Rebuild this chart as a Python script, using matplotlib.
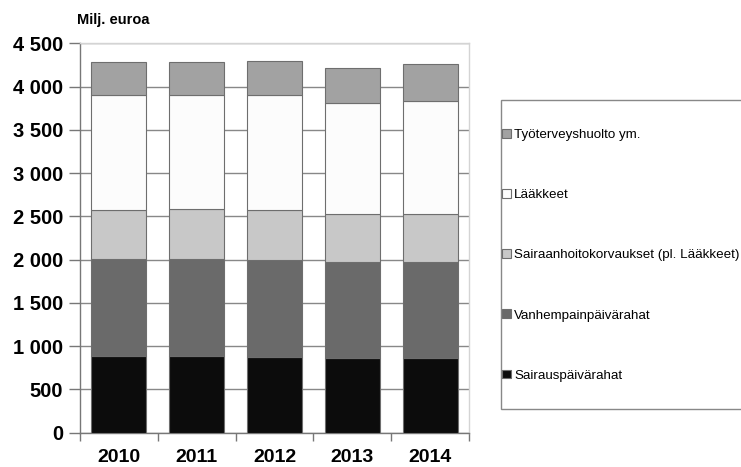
import numpy as np
import matplotlib.pyplot as plt
import matplotlib.patches as patches

plt.rcParams['font.family'] = ['Liberation Sans', 'DejaVu Sans']

years = ['2010', '2011', '2012', '2013', '2014']
# Milj. euroa, alhaalta ylös
sairauspv = [890, 890, 875, 863, 863]
vanhempainpv = [1114, 1112, 1117, 1113, 1113]
sairaanhoito = [570, 580, 578, 555, 555]
laakkeet = [1332, 1325, 1336, 1283, 1299]
tyoterveys = [378, 380, 390, 397, 431]

series = [
    ('Sairauspäivärahat', sairauspv, '#0c0c0c'),
    ('Vanhempainpäivärahat', vanhempainpv, '#6a6a6a'),
    ('Sairaanhoitokorvaukset (pl. Lääkkeet)', sairaanhoito, '#c8c8c8'),
    ('Lääkkeet', laakkeet, '#fcfcfc'),
    ('Työterveyshuolto ym.', tyoterveys, '#a2a2a2'),
]

yticks = [0, 500, 1000, 1500, 2000, 2500, 3000, 3500, 4000, 4500]
ytick_labels = ['0', '500', '1 000', '1 500', '2 000', '2 500', '3 000', '3 500', '4 000', '4 500']

W, H = 741, 467
fig = plt.figure(figsize=(W / 100, H / 100), dpi=100)
ax = fig.add_axes([80 / W, 1 - 432.7 / H, (469 - 80) / W, (432.7 - 43.3) / H])

x = np.arange(len(years))
bottom = np.zeros(len(years))
handles = []
for name, vals, col in series:
    b = ax.bar(x, vals, width=0.707, bottom=bottom, color=col, edgecolor='#6e6e6e',
               linewidth=0.8, label=name, zorder=3)
    handles.append(b)
    bottom += np.array(vals)

ax.set_xlim(-0.5, len(years) - 0.5)
ax.set_ylim(0, 4500)
ax.set_yticks(yticks)
ax.set_yticklabels(ytick_labels, fontsize=14.5, fontweight='bold')
ax.set_xticks(x)
ax.set_xticklabels(years, fontsize=14, fontweight='bold')
ax.tick_params(axis='x', length=0, pad=12)
ax.tick_params(axis='y', length=8, color='#777777', width=1, pad=4)
ax.set_xticks(np.arange(-0.5, len(years)), minor=True)
ax.tick_params(axis='x', which='minor', length=6, color='#777777', width=1)

ax.yaxis.grid(True, color='#888888', linewidth=1, zorder=0)
ax.set_axisbelow(True)
ax.spines['left'].set_color('#777777')
ax.spines['bottom'].set_color('#777777')
ax.spines['top'].set_color('#d4d4d4')
ax.spines['right'].set_color('#d4d4d4')
for s in ax.spines.values():
    s.set_linewidth(1)

fig.text(77 / W, 1 - 20 / H, 'Milj. euroa', fontsize=10.5, fontweight='bold',
         va='center', ha='left')

# legend box
rect = patches.Rectangle((501 / W, 1 - 409 / H), (760 - 501) / W, (409 - 100) / H,
                         transform=fig.transFigure, facecolor='white',
                         edgecolor='#888888', linewidth=1)
fig.patches.append(rect)
leg = fig.legend(handles[::-1], [s[0] for s in series][::-1],
                 loc='upper left', bbox_to_anchor=(502 / W, 1 - 129 / H),
                 frameon=False, fontsize=9.6, handlelength=0.65, handleheight=0.65,
                 handletextpad=0.25, labelspacing=3.6, borderaxespad=0, borderpad=0)

fig.savefig('out.png', dpi=100)
